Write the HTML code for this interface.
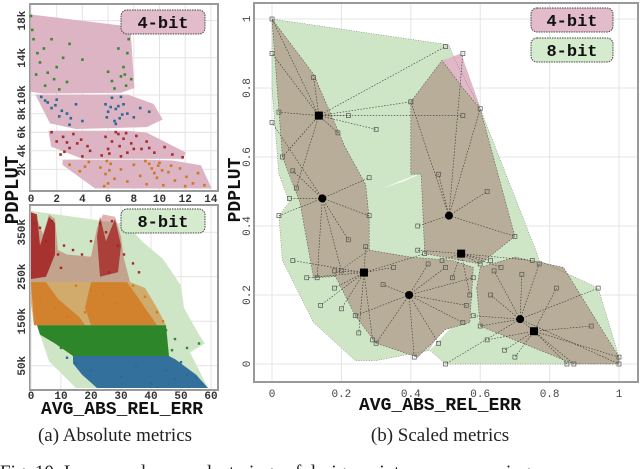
<!DOCTYPE html>
<html><head><meta charset="utf-8">
<style>
html,body{margin:0;padding:0;background:#fff;}
svg{display:block;font-family:"Liberation Mono",monospace;}
.cap{font-family:"Liberation Serif",serif;font-size:19px;fill:#222;}
</style></head>
<body>
<svg id="fig" width="640" height="469" viewBox="0 0 640 469">
</svg>
<script>
// ===== Panel (a) top: 4-bit =====
const topXTicks=[0,2,4,6,8,10,12,14];
const topYTicks=[2,4,6,8,10,14,18];
const topYLabels=["2k","4k","6k","8k","10k","14k","18k"];
const topHullGreen=[[0,18.6],[7.7,17.3],[8,10.8],[7,10.3],[1,10.2],[0,10.4]];
const topHullBlue=[[0.4,10.0],[7.5,10.0],[9.5,9.0],[10.2,7.4],[9,6.6],[3.5,6.4],[1.5,7]];
const topHullRed=[[1.4,6.1],[7.5,6.1],[9,5.9],[12,3.8],[11.8,3.2],[4,3.2],[1.6,4.5]];
const topHullOrange=[[2.5,3.0],[9,3.0],[11,2.9],[13.2,2.4],[14,0],[5,0],[3.5,1.5],[2.5,2.5]];
const topPtsGreen=[[0,18.5],[0.2,16],[0.5,14.5],[1,15],[1.6,16],[2,13],[2.5,14],[1.3,12.4],[1.8,11.7],[2.8,11.4],[0.7,13.5],[3,15.5],[6,12.5],[6.3,11.5],[7,12],[7.2,13],[7.5,14.5],[7.6,16],[7.8,11.7],[6.8,15],[7.3,12.2],[0.4,12.2],[1.1,11],[2.2,10.6],[6.5,10.7],[7.4,11],[0.1,17],[4,13.8]];
const topPtsBlue=[[0.8,9.8],[1.3,9.2],[1.6,8.6],[2,9.5],[2.4,8.3],[2.8,8],[3.1,7.5],[3.5,9],[1.1,9.4],[2.2,7.7],[5.8,9],[6,8.2],[6.3,9.7],[6.6,8.5],[6.9,7.5],[7.2,9],[7.5,8],[8,7.6],[8.5,8.6],[6.5,7.2],[7,9.8],[9.2,8.2],[5.9,7.6],[6.8,8.8],[6.6,6.9],[7.1,7.9],[3,6.8],[4,7.2],[1.9,8.9],[6.2,8.7]];
const topPtsRed=[[1.6,6],[2,5],[2.5,5.5],[3,4.3],[3.3,5.8],[3.6,4.8],[2.3,3.6],[4,3.4],[5.8,5.5],[6,4.2],[6.3,5],[6.6,6],[6.9,4.5],[7.2,5.3],[7.5,3.8],[7.8,4.8],[8.2,5.6],[8.6,4.2],[9,5],[9.6,3.8],[10.4,4.4],[11,3.6],[11.8,3.3],[5.5,3.5],[4.6,4],[2.8,4.9],[3.9,5.2],[6.1,3.7],[6.8,5.8],[7,3.4],[8,4.2],[2.6,3.9],[4.4,4.5],[7.4,5.9],[9.2,4.3]];
const topPtsOrange=[[3,2.5],[3.8,1.8],[4.5,2.8],[5.4,2.2],[5.8,1.5],[6,0.5],[6.2,2.6],[6.5,1],[7,2],[7.5,0.7],[8,2.5],[8.5,1.3],[9,0.4],[9.4,2.1],[9.8,1.1],[10,2.7],[10.3,0.3],[10.7,1.7],[11.2,0.8],[11.6,2.1],[12.1,1.2],[12.6,0.5],[13,1.6],[13.5,0.3],[8.9,2.9],[9.9,2.4],[5.9,2.9],[6.1,1.9],[5.7,0.2],[9.6,1.6],[10.2,1.9],[9.2,2.6],[10.9,2.4],[4.2,2.3],[12,0.2]];

// ===== Panel (a) bottom: 8-bit =====
const botXTicks=[0,10,20,30,40,50,60];
const botYTicks=[50,150,250,350];
const botYLabels=["50k","150k","250k","350k"];
const botHull=[[0,398],[32,368],[37,330],[44,290],[50,230],[51,180],[56,120],[58,100],[53,80],[59,0],[15,0],[6,60],[3,120],[0,220]];
const bandRed=[[0,395],[2,380],[4,345],[6,390],[8,380],[9,310],[12,300],[20,295],[22,360],[24,390],[28,385],[30,340],[31,290],[33,238],[0,238]];
const spikeRedA=[[0,395],[2,390],[3,320],[6,385],[8,370],[8,300],[5,250],[0,245]];
const spikeRedB=[[22,340],[23,385],[25,330],[28,380],[30,320],[29,260],[23,250]];
const bandOrange=[[0,238],[33,238],[38,225],[42,180],[45,141],[1,141],[0,190]];
const spikeOrangeA=[[0,238],[5,238],[9,200],[16,160],[18,141],[1,141]];
const spikeOrangeB=[[20,238],[32,238],[36,200],[40,160],[42,141],[20,141],[18,180]];
const bandGreen=[[2,141],[45,141],[46,72],[14,72],[8,100],[3,120]];
const bandBlue=[[14,72],[46,72],[48,65],[55,30],[59,0],[22,0],[17,30],[14,55]];
const botPtsRed=[[1,370],[3,360],[5,330],[7,375],[9,300],[11,320],[14,310],[17,300],[20,330],[23,370],[25,350],[27,375],[29,320],[31,300],[34,280],[36,260],[10,270],[26,260]];
const botPtsOrange=[[3,200],[8,180],[12,160],[18,170],[24,210],[28,190],[34,230],[38,205],[42,170],[44,150],[15,230],[20,220]];
const botPtsGreen=[[45,130],[48,110],[52,90],[56,100],[10,90],[47,85]];
const botPtsBlue=[[15,55],[12,68],[20,40],[35,50],[45,40],[50,58],[52,30],[55,25],[57,10],[48,20],[40,10],[30,25]];

// ===== Panel (b): scaled metrics =====
const bXTicks=[0,0.2,0.4,0.6,0.8,1];
const bXLabels=["0","0.2","0.4","0.6","0.8","1"];
const bYTicks=[0,0.2,0.4,0.6,0.8,1];
const bYLabels=["0","0.2","0.4","0.6","0.8","1"];
const bHullGreen=[[0,1],[0.51,0.925],[0.525,0.885],[0.6,0.74],[0.76,0.33],[0.77,0.3],[0.94,0.22],[1,0.02],[1,0],[0.5,0],[0.455,0.04],[0.3,0.01],[0.24,0.01],[0.12,0.12],[0.03,0.3],[0.02,0.43],[0.05,0.47],[0.02,0.55],[0,0.8]];
const bHoles=[[[0.32,0.51],[0.47,0.57],[0.38,0.53]],[[0.455,0.04],[0.52,0.11],[0.47,0.1]]];
const bBrownA=[[0,1],[0.12,0.84],[0.21,0.63],[0.27,0.52],[0.28,0.42],[0.28,0.26],[0.12,0.25],[0.08,0.47],[0.03,0.6]];
const bBrownB=[[0.4,0.76],[0.49,0.88],[0.55,0.8],[0.6,0.74],[0.7,0.37],[0.6,0.29],[0.44,0.32],[0.43,0.55],[0.4,0.55]];
const bBrownC=[[0.18,0.26],[0.28,0.33],[0.4,0.31],[0.52,0.3],[0.58,0.28],[0.57,0.12],[0.5,0.1],[0.42,0.02],[0.3,0.06],[0.24,0.14]];
const bBrownD=[[0.59,0.22],[0.6,0.28],[0.7,0.31],[0.84,0.28],[1,0.02],[1,0],[0.87,0],[0.6,0.11]];
const bPinkA=[[0.49,0.88],[0.545,0.9],[0.6,0.745],[0.55,0.77]];
const bPinkB=[[0.44,0.13],[0.5,0.115],[0.455,0.045]];
const bSquares=[[0.135,0.72],[0.265,0.265],[0.545,0.32],[0.755,0.095]];
const bCircles=[[0.145,0.48],[0.395,0.2],[0.51,0.43],[0.715,0.13]];
const bPts=[
 [[0,1],[0.12,0.83],[0.02,0.73],[0.19,0.67],[0.03,0.6],[0.07,0.51],[0.22,0.72],[0.5,0.92],[0.4,0.76],[0.55,0.72],[0.0,0.9],[0.3,0.68]],
 [[0.05,0.48],[0.28,0.43],[0.13,0.25],[0.2,0.27],[0.02,0.43],[0.28,0.54],[0.06,0.56],[0.0,0.7],[0.22,0.36]],
 [[0.18,0.27],[0.27,0.34],[0.2,0.16],[0.25,0.09],[0.29,0.07],[0.18,0.22],[0.44,0.32],[0.06,0.3],[0.14,0.17],[0.35,0.28],[0.1,0.25]],
 [[0.41,0.02],[0.3,0.06],[0.5,0.28],[0.56,0.17],[0.55,0.12],[0.45,0.29],[0.24,0.14],[0.32,0.23],[0.48,0.06],[0.58,0.25]],
 [[0.4,0.76],[0.55,0.9],[0.6,0.74],[0.7,0.37],[0.42,0.4],[0.48,0.55],[0.62,0.5]],
 [[0.6,0.29],[0.49,0.3],[0.63,0.3],[0.75,0.3],[0.57,0.2],[0.42,0.33],[0.66,0.28],[0.52,0.25]],
 [[1,0.02],[0.87,0],[0.62,0.07],[0.67,0.04],[0.92,0.11],[0.82,0.22],[0.63,0.2],[0.85,0.0],[0.7,0.02]],
 [[0.94,0.22],[0.77,0.29],[0.6,0.11],[0.72,0.26],[0.58,0.14],[1,0],[0.5,0],[0.64,0.27]]
];

const NS="http://www.w3.org/2000/svg";
const svg=document.getElementById('fig');
function mk(tag,attrs,parent){const e=document.createElementNS(NS,tag);for(const k in attrs)e.setAttribute(k,attrs[k]);(parent||svg).appendChild(e);return e;}
function txt(s,attrs,parent){const e=mk('text',attrs,parent);e.textContent=s;return e;}

const tx=x=>31+x*12.85, ty=y=>188-y*9.3;
const bx=x=>31+x*3.0, by=y=>388-y*0.445;
const sx=x=>272+x*347, sy=y=>364-y*345;
function poly(arr,fx,fy){return arr.map(p=>fx(p[0]).toFixed(1)+','+fy(p[1]).toFixed(1)).join(' ');}

// ---------- Panel a top ----------
let g=mk('g',{});


mk('rect',{x:30,y:4,width:188,height:187,fill:'#fff',stroke:'#999','stroke-width':2},g);
topXTicks.forEach(v=>{mk('line',{x1:tx(v),x2:tx(v),y1:5,y2:190,stroke:'#e4e4e4'},g);
 const t=txt(String(v),{x:tx(v),y:202,'text-anchor':'middle','font-size':11,'font-weight':'bold',fill:'#333'},g);
 });
topYTicks.forEach((v,i)=>{mk('line',{x1:31,x2:217,y1:ty(v),y2:ty(v),stroke:'#e4e4e4'},g);
 const t=txt(topYLabels[i],{transform:`translate(25,${ty(v)}) rotate(-90)`,'text-anchor':'middle','font-size':11,'font-weight':'bold',fill:'#333'},g);
 });
[topHullGreen,topHullBlue,topHullRed,topHullOrange].forEach(h=>{const p=mk('polygon',{points:poly(h,tx,ty),fill:'#dcb4c4',stroke:'#dcb4c4'},g);
 });
[[topPtsGreen,'#3a8a2e'],[topPtsBlue,'#2b6a96'],[topPtsRed,'#a82a2a'],[topPtsOrange,'#cc7a1e']].forEach(([pts,c])=>pts.forEach(p=>{
 const r=mk('rect',{x:tx(p[0])-1.3,y:ty(p[1])-1.3,width:2.6,height:2.6,fill:c},g);
 }));
let lg=mk('g',{},g);
mk('rect',{x:121,y:10,width:84,height:24,rx:6,fill:'#e2bccb',stroke:'#444','stroke-dasharray':'1.5,1'},lg);
txt('4-bit',{x:163,y:28,'text-anchor':'middle','font-size':17,'font-weight':'bold',fill:'#111'},lg);

// ---------- Panel a bottom ----------
g=mk('g',{});


mk('rect',{x:30,y:205,width:188,height:185,fill:'#fff',stroke:'#999','stroke-width':2},g);
botXTicks.forEach(v=>{mk('line',{x1:bx(v),x2:bx(v),y1:206,y2:389,stroke:'#e4e4e4'},g);
 const t=txt(String(v),{x:bx(v),y:399,'text-anchor':'middle','font-size':11,'font-weight':'bold',fill:'#333'},g);
 });
botYTicks.forEach((v,i)=>{mk('line',{x1:31,x2:217,y1:by(v),y2:by(v),stroke:'#e4e4e4'},g);
 const t=txt(botYLabels[i],{transform:`translate(25,${by(v)}) rotate(-90)`,'text-anchor':'middle','font-size':11,'font-weight':'bold',fill:'#333'},g);
 });
let hp=mk('polygon',{points:poly(botHull,bx,by),fill:'#cfe6c6'},g);

[[bandRed,'#a52626',0.35],[spikeRedA,'#a52626',0.9],[spikeRedB,'#a52626',0.8],[bandOrange,'#d27a22',0.55],[spikeOrangeA,'#d27a22',0.85],[spikeOrangeB,'#d27a22',0.85],[bandGreen,'#2e862b',1],[bandBlue,'#2a6a9a',0.95]].forEach(([b,c,o])=>{
 const p=mk('polygon',{points:poly(b,bx,by),fill:c,'fill-opacity':o},g);
 });
[[botPtsRed,'#a52626'],[botPtsOrange,'#d27a22'],[botPtsGreen,'#2e862b'],[botPtsBlue,'#2a6a9a']].forEach(([pts,c])=>pts.forEach(p=>{
 const r=mk('rect',{x:bx(p[0])-1.2,y:by(p[1])-1.2,width:2.4,height:2.4,fill:c},g);
 }));
lg=mk('g',{},g);
mk('rect',{x:121,y:209,width:84,height:24,rx:6,fill:'#d5ebcd',stroke:'#444','stroke-dasharray':'1.5,1'},lg);
txt('8-bit',{x:163,y:227,'text-anchor':'middle','font-size':17,'font-weight':'bold',fill:'#111'},lg);

let t=txt('PDPLUT',{transform:'translate(18,190) rotate(-90)','text-anchor':'middle','font-size':19,'font-weight':'bold',fill:'#111'});

t=txt('AVG_ABS_REL_ERR',{x:122,y:414,'text-anchor':'middle','font-size':18,'font-weight':'bold',fill:'#111'});

t=txt('(a) Absolute metrics',{x:115,y:441,'text-anchor':'middle',class:'cap'});


// ---------- Panel b ----------
g=mk('g',{});


mk('rect',{x:254,y:3,width:384,height:379,fill:'#fff',stroke:'#999','stroke-width':2},g);
bXTicks.forEach((v,i)=>{mk('line',{x1:sx(v),x2:sx(v),y1:4,y2:381,stroke:'#e4e4e4'},g);
 const t=txt(bXLabels[i],{x:sx(v),y:397,'text-anchor':'middle','font-size':11,fill:'#444'},g);
 });
bYTicks.forEach((v,i)=>{mk('line',{x1:255,x2:637,y1:sy(v),y2:sy(v),stroke:'#e4e4e4'},g);
 const t=txt(bYLabels[i],{transform:`translate(250,${sy(v)}) rotate(-90)`,'text-anchor':'middle','font-size':11,fill:'#444'},g);
 });
hp=mk('polygon',{points:poly(bHullGreen,sx,sy),fill:'#cfe6c6'},g);

bHoles.forEach(h=>{mk('polygon',{points:poly(h,sx,sy),fill:'#fff'},g);});
[bPinkA,bPinkB].forEach(h=>{const p=mk('polygon',{points:poly(h,sx,sy),fill:'#e0b8c8'},g);
 });
[bBrownA,bBrownB,bBrownC,bBrownD].forEach(h=>{const p=mk('polygon',{points:poly(h,sx,sy),fill:'#b7ad98',stroke:'#555','stroke-width':0.6,'stroke-dasharray':'1.5,1.5'},g);
 });
mk('polyline',{points:poly(bHullGreen.concat([bHullGreen[0]]),sx,sy),fill:'none',stroke:'#666','stroke-width':0.5,'stroke-dasharray':'1,1.5'},g);
const centers=[bSquares[0],bCircles[0],bSquares[1],bCircles[1],bCircles[2],bSquares[2],bSquares[3],bCircles[3]];
bPts.forEach((pts,i)=>{const c=centers[i];pts.forEach(p=>{
 const l=mk('line',{x1:sx(c[0]),y1:sy(c[1]),x2:sx(p[0]),y2:sy(p[1]),stroke:'#333','stroke-width':0.6,'stroke-dasharray':'1.5,1.5'},g);
 
 const r=mk('rect',{x:sx(p[0])-2,y:sy(p[1])-2,width:4,height:4,fill:'none',stroke:'#555','stroke-width':0.7},g);
 });});
bSquares.forEach(p=>{const r=mk('rect',{x:sx(p[0])-4,y:sy(p[1])-4,width:8,height:8,fill:'#000'},g);
 });
bCircles.forEach(p=>{const r=mk('circle',{cx:sx(p[0]),cy:sy(p[1]),r:4,fill:'#000'},g);
 });
lg=mk('g',{},g);
mk('rect',{x:531,y:8,width:82,height:24,rx:6,fill:'#e2bccb',stroke:'#444','stroke-dasharray':'1.5,1'},lg);
txt('4-bit',{x:572,y:26,'text-anchor':'middle','font-size':17,'font-weight':'bold',fill:'#111'},lg);
lg=mk('g',{},g);
mk('rect',{x:531,y:38,width:82,height:24,rx:6,fill:'#d5ebcd',stroke:'#444','stroke-dasharray':'1.5,1'},lg);
txt('8-bit',{x:572,y:56,'text-anchor':'middle','font-size':17,'font-weight':'bold',fill:'#111'},lg);

t=txt('PDPLUT',{transform:'translate(240,190) rotate(-90)','text-anchor':'middle','font-size':18,'font-weight':'bold',fill:'#111'});

t=txt('AVG_ABS_REL_ERR',{x:440,y:410,'text-anchor':'middle','font-size':18,'font-weight':'bold',fill:'#111'});

t=txt('(b) Scaled metrics',{x:440,y:441,'text-anchor':'middle',class:'cap'});

t=txt('Fig.  10:  Lower  and  upper  clusterings  of  design  points  across  mapping',{x:0,y:478,class:'cap'});

</script>
</body></html>
